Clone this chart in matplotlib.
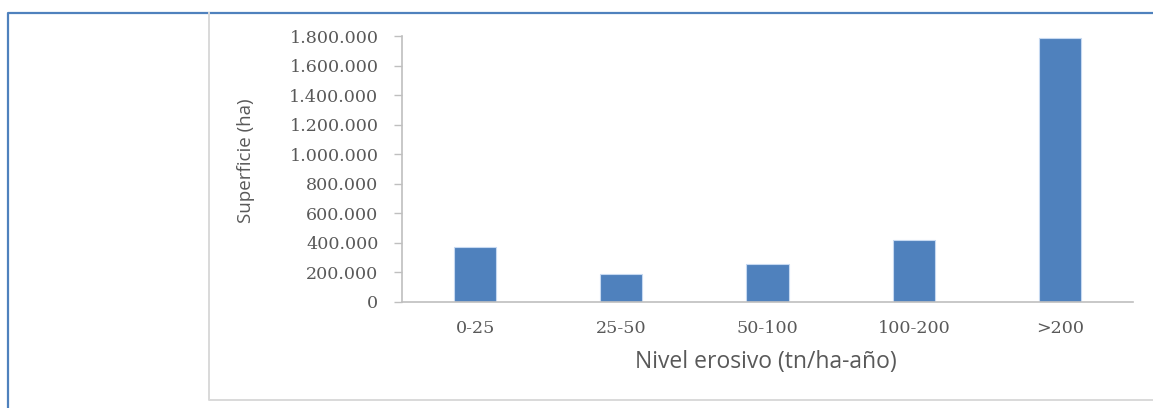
import matplotlib.pyplot as plt
from matplotlib.lines import Line2D
from matplotlib.ticker import FuncFormatter

# === Data ===
categorias = ["0-25", "25-50", "50-100", "100-200", ">200"]
superficie_ha = [369000, 188000, 260000, 418000, 1786000]
y_ticks = [0, 200000, 400000, 600000, 800000, 1000000, 1200000, 1400000, 1600000, 1800000]

BAR_COLOR = "#4F81BD"
AXIS_COLOR = "#BFBFBF"
TEXT_COLOR = "#595959"

W, H = 1153, 408
fig = plt.figure(figsize=(W / 100, H / 100), dpi=100)
fig.patch.set_facecolor("white")

# axes placed in pixel terms of the figure
left, right, bottom, top = 402, 1133, 302, 36
ax_w, ax_h = right - left, bottom - top
ax = fig.add_axes([left / W, 1 - bottom / H, ax_w / W, ax_h / H])

x = range(len(categorias))
ax.bar(x, superficie_ha, width=0.29, color=BAR_COLOR, edgecolor="#C6D9F1", linewidth=0.8)

ax.set_xlim(-0.5, len(categorias) - 0.5)
ax.set_ylim(0, 1800000)
ax.set_yticks(y_ticks)
ax.yaxis.set_major_formatter(FuncFormatter(lambda v, p: f"{int(v):,}".replace(",", ".")))
ax.set_xticks(list(x))
ax.set_xticklabels(categorias)

for side in ["top", "right"]:
    ax.spines[side].set_visible(False)
for side in ["left", "bottom"]:
    ax.spines[side].set_color(AXIS_COLOR)
    ax.spines[side].set_linewidth(1.2)

ax.tick_params(axis="y", direction="out", length=6, color=AXIS_COLOR, width=1, pad=11,
               labelsize=12.6, labelcolor=TEXT_COLOR)
ax.tick_params(axis="x", length=0, pad=13, labelsize=12.6, labelcolor=TEXT_COLOR)
for lbl in ax.get_yticklabels() + ax.get_xticklabels():
    lbl.set_family("DejaVu Serif")

ax.set_ylabel("Superficie (ha)", fontsize=13.5, color=TEXT_COLOR, family="Open Sans")
ax.set_xlabel("Nivel erosivo (tn/ha-año)", fontsize=16.5, color=TEXT_COLOR, family="Open Sans")
ax.yaxis.set_label_coords((246 - left) / ax_w, (bottom - 161) / ax_h)
ax.xaxis.set_label_coords((766 - left) / ax_w, (bottom - 362) / ax_h)
ax.xaxis.label.set_va("center")
ax.yaxis.label.set_va("center")

# page border (blue) and chart frame (grey)
def fig_line(xs, ys, color, lw):
    fig.add_artist(Line2D([v / W for v in xs], [1 - v / H for v in ys],
                          color=color, linewidth=lw, transform=fig.transFigure))

fig_line([8, 8, W], [H, 13, 13], "#4F81BD", 1.6)
fig_line([209, 209, W], [13, 400, 400], "#D9D9D9", 1.4)

plt.savefig("out.png", dpi=100)
